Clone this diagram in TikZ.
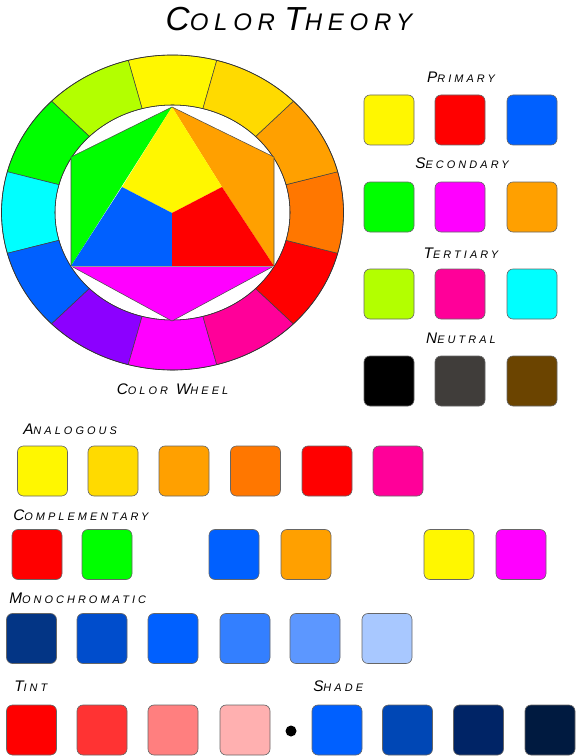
\documentclass[tikz,border=0pt]{standalone}
\usepackage{fontspec}
\setmainfont{Liberation Sans}
\newfontfamily\lblfont[LetterSpace=28]{Liberation Sans}
\newfontfamily\ttlfont[LetterSpace=24]{Liberation Sans}
\newcommand\sct[4]{{\fontsize{#1}{#1}\selectfont #3}{\fontsize{#2}{#2}\selectfont #4}}
\definecolor{cY}{HTML}{FFF700}
\definecolor{cGo}{HTML}{FFDA00}
\definecolor{cO}{HTML}{FFA000}
\definecolor{cRO}{HTML}{FF7700}
\definecolor{cR}{HTML}{FF0000}
\definecolor{cP}{HTML}{FF0099}
\definecolor{cM}{HTML}{FF00FF}
\definecolor{cV}{HTML}{8C00FF}
\definecolor{cB}{HTML}{0060FF}
\definecolor{cC}{HTML}{00FFFF}
\definecolor{cG}{HTML}{00FF00}
\definecolor{cYG}{HTML}{B3FF00}
\definecolor{cK}{HTML}{000000}
\definecolor{cDG}{HTML}{403D3A}
\definecolor{cBr}{HTML}{6B4400}
\definecolor{mA}{HTML}{033585}
\definecolor{mB}{HTML}{004DCC}
\definecolor{mC}{HTML}{0060FF}
\definecolor{mD}{HTML}{337FFF}
\definecolor{mE}{HTML}{5C97FF}
\definecolor{mF}{HTML}{A8C8FF}
\definecolor{tA}{HTML}{FF0000}
\definecolor{tB}{HTML}{FF3333}
\definecolor{tC}{HTML}{FF7F7F}
\definecolor{tD}{HTML}{FFB0B0}
\definecolor{sA}{HTML}{0060FF}
\definecolor{sB}{HTML}{0047B5}
\definecolor{sC}{HTML}{002466}
\definecolor{sD}{HTML}{001A40}
\tikzset{
  lbl/.style={font=\lblfont\itshape, inner sep=0pt, anchor=west, text=black},
  clbl/.style={font=\lblfont\itshape, inner sep=0pt, anchor=center, text=black},
  ttl/.style={font=\ttlfont\itshape, inner sep=0pt, anchor=center, text=black},
  swatch/.style={draw=black!60, line width=0.5pt, rounded corners=4.5pt,
    minimum width=37.5pt, minimum height=37.5pt, inner sep=0pt},
  wheelseg/.style={draw=black!75, line width=0.4pt},
  tri/.style={line width=0.4pt}
}
\begin{document}
\begin{tikzpicture}[x=0.75pt,y=-0.75pt]
\useasboundingbox (0,0) rectangle (577,756);
% title
\node[ttl] (title) at (289,19) {\sct{25}{18}{C}{OLOR}\hspace*{7pt}\sct{25}{18}{T}{HEORY}};
% wheel segments
\foreach \c [count=\k from 0] in {cY,cYG,cG,cC,cB,cV,cM,cP,cR,cRO,cO,cGo}{
  \pgfmathsetmacro\lo{90+30*\k-15}
  \pgfmathsetmacro\hi{90+30*\k+15}
  \filldraw[wheelseg, fill=\c]
    plot[domain=\lo:\hi, samples=20] ({172.5+171*cos(\x)},{212.5-157.5*sin(\x)})
    -- plot[domain=\hi:\lo, samples=20] ({172.5+117.5*cos(\x)},{212.5-107.5*sin(\x)})
    -- cycle;
}
\draw[line width=0.5pt, black!80] (172.5,212.5) ellipse [x radius=171, y radius=157.5];
\draw[line width=0.4pt, black!80] (172.5,212.5) ellipse [x radius=117.5, y radius=107.5];
% inner figure
\coordinate (A) at (172,107);
\coordinate (UL) at (71,157);
\coordinate (LL) at (71,266);
\coordinate (UR) at (274,157);
\coordinate (LR) at (274,266);
\coordinate (Bt) at (172,321);
\coordinate (Ce) at (172,213);
\coordinate (YL) at (122,187);
\coordinate (YR) at (222,187);
\coordinate (Mi) at (172,267);
\fill[cG] (A) -- (UL) -- (LL) -- cycle;
\fill[cO] (A) -- (UR) -- (LR) -- (YR) -- cycle;
\fill[cY] (A) -- (YR) -- (Ce) -- (YL) -- cycle;
\fill[cB] (YL) -- (Ce) -- (Mi) -- (LL) -- cycle;
\fill[cR] (Ce) -- (YR) -- (LR) -- (Mi) -- cycle;
\fill[cM] (LL) -- (LR) -- (Bt) -- cycle;
\draw[tri, black!70] (A) -- (UL) -- (LL) -- (Bt) -- (LR) -- (UR) -- cycle;
\draw[tri, black!40] (LL) -- (LR);
\node[clbl] (wheellbl) at (172.5,389) {\sct{11.5}{8.2}{C}{OLOR}\hspace*{6pt}\sct{11.5}{8.2}{W}{HEEL}};
% right panel
\node[clbl] (lPri) at (461,77) {\sct{11.5}{8.2}{P}{RIMARY}};
\node[swatch, fill=cY] (p1) at (389,120) {};
\node[swatch, fill=cR] (p2) at (460,120) {};
\node[swatch, fill=cB] (p3) at (532,120) {};
\node[clbl] (lSec) at (462,163) {\sct{11.5}{8.2}{S}{ECONDARY}};
\node[swatch, fill=cG] (s1) at (389,207) {};
\node[swatch, fill=cM] (s2) at (460,207) {};
\node[swatch, fill=cO] (s3) at (532,207) {};
\node[clbl] (lTer) at (461,253) {\sct{11.5}{8.2}{T}{ERTIARY}};
\node[swatch, fill=cYG] (t1) at (389,294) {};
\node[swatch, fill=cP] (t2) at (460,294) {};
\node[swatch, fill=cC] (t3) at (532,294) {};
\node[clbl] (lNeu) at (461,338) {\sct{11.5}{8.2}{N}{EUTRAL}};
\node[swatch, fill=cK] (n1) at (389,381) {};
\node[swatch, fill=cDG] (n2) at (460,381) {};
\node[swatch, fill=cBr] (n3) at (532,381) {};
% analogous
\node[lbl] (lAna) at (23,429) {\sct{11.5}{8.2}{A}{NALOGOUS}};
\foreach \c/\x [count=\i] in {cY/42.5,cGo/113,cO/184,cRO/255.5,cR/327,cP/398}
  \node[swatch, fill=\c] (a\i) at (\x,471) {};
% complementary
\node[lbl] (lCom) at (13,515) {\sct{11.5}{8.2}{C}{OMPLEMENTARY}};
\foreach \c/\x [count=\i] in {cR/37,cG/107,cB/234,cO/306,cY/449,cM/521}
  \node[swatch, fill=\c] (c\i) at (\x,554.5) {};
% monochromatic
\node[lbl] (lMon) at (9,598) {\sct{11.5}{8.2}{M}{ONOCHROMATIC}};
\foreach \c/\x [count=\i] in {mA/31.5,mB/102,mC/173,mD/245,mE/315,mF/387}
  \node[swatch, fill=\c] (m\i) at (\x,638.5) {};
% tint and shade
\node[lbl] (lTin) at (14,686) {\sct{11.5}{8.2}{T}{INT}};
\node[lbl] (lSha) at (313,686) {\sct{11.5}{8.2}{S}{HADE}};
\foreach \c/\x [count=\i] in {tA/31.5,tB/102,tC/173,tD/245}
  \node[swatch, fill=\c] (ti\i) at (\x,730) {};
\node[circle, fill=black, minimum size=8.25pt, inner sep=0pt] (dot) at (291,731) {};
\foreach \c/\x [count=\i] in {sA/337,sB/407.5,sC/478.5,sD/550}
  \node[swatch, fill=\c] (sh\i) at (\x,730) {};
\end{tikzpicture}
\end{document}
